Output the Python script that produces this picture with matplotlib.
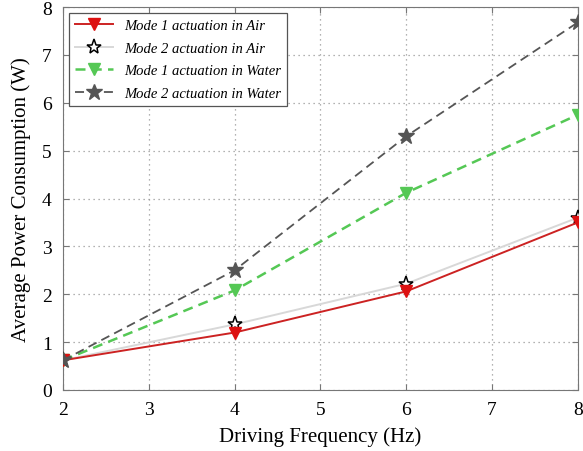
import matplotlib
matplotlib.use("Agg")
import matplotlib.pyplot as plt

# driving frequency (Hz) and average power (W)
freq = [2, 4, 6, 8]
mode1_air = [0.62, 1.20, 2.06, 3.50]
mode2_air = [0.62, 1.37, 2.22, 3.60]
mode1_water = [0.62, 2.08, 4.12, 5.75]
mode2_water = [0.62, 2.50, 5.30, 7.68]

plt.rcParams["font.family"] = "Liberation Serif"

fig = plt.figure(figsize=(5.83, 4.52), dpi=100)
ax = fig.add_axes([0.108, 0.135, 0.883, 0.847])

ax.plot(freq, mode1_air, color="#cc2222", lw=1.4, marker="v", ms=8,
        mfc="#dd1111", mec="#dd1111", label="Mode 1 actuation in Air", zorder=4)
ax.plot(freq, mode2_air, color="#d8d8d8", lw=1.4, marker="*", ms=11,
        mfc="white", mec="black", mew=1.1, label="Mode 2 actuation in Air", zorder=3)
ax.plot(freq, mode1_water, color="#55c855", lw=1.8, ls=(0, (4, 2.5)), marker="v", ms=8,
        mfc="#55c855", mec="#55c855", label="Mode 1 actuation in Water", zorder=3)
ax.plot(freq, mode2_water, color="#555555", lw=1.3, ls=(0, (5, 3)), marker="*", ms=12,
        mfc="#555555", mec="#555555", label="Mode 2 actuation in Water", zorder=5)

ax.set_xlim(2, 8)
ax.set_ylim(0, 8)
ax.set_xticks(range(2, 9))
ax.set_yticks(range(0, 9))
ax.grid(True, ls=(0, (1, 3)), color="#999999", lw=0.9)
ax.tick_params(labelsize=14, direction="in", color="#777777", length=4,
               top=True, right=True, pad=8)
for s in ax.spines.values():
    s.set_color("#777777")

ax.set_xlabel("Driving Frequency (Hz)", fontsize=15, labelpad=6)
ax.set_ylabel("Average Power Consumption (W)", fontsize=15, labelpad=8)

leg = ax.legend(loc="upper left", prop={"style": "italic", "size": 10.5},
                fancybox=False, edgecolor="#555555", framealpha=1,
                handlelength=2.6, borderaxespad=0.4, labelspacing=0.65)
leg.get_frame().set_linewidth(0.9)

fig.savefig("out.png", dpi=100)
